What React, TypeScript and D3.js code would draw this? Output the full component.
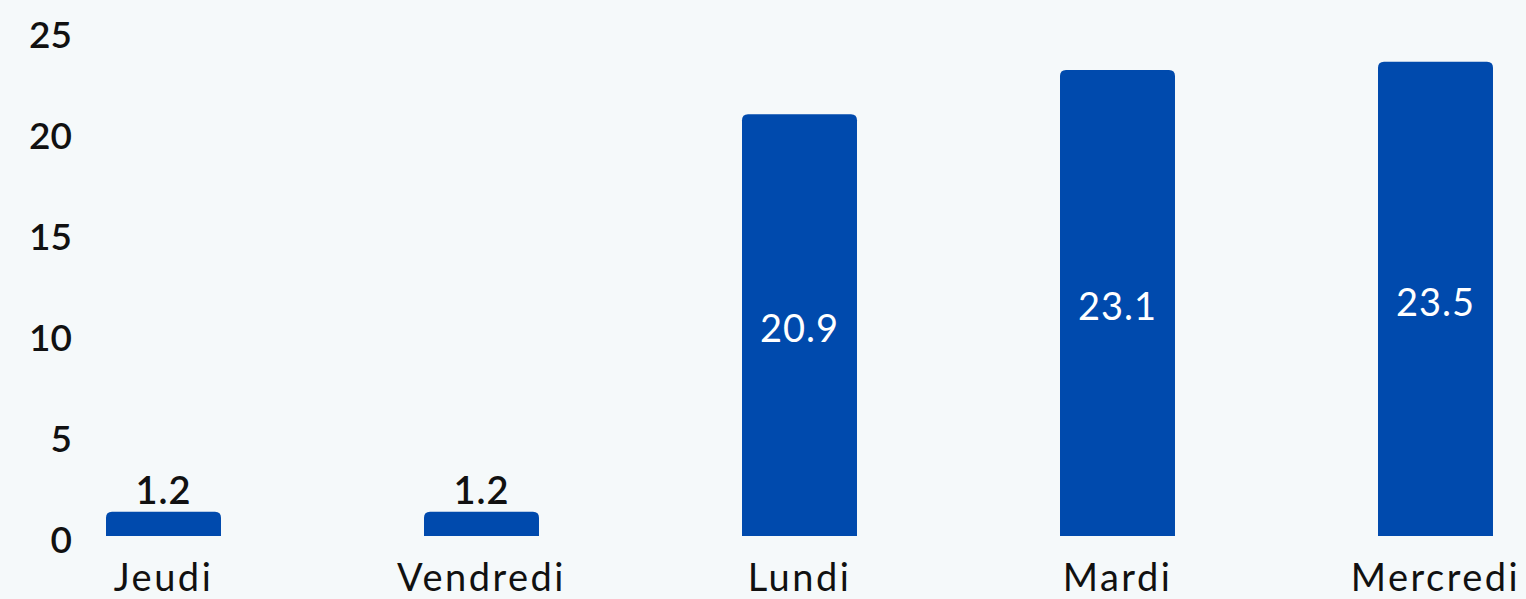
import React from "react";
import * as d3 from "d3";

const categories = ["Jeudi", "Vendredi", "Lundi", "Mardi", "Mercredi"];
const values = [1.2, 1.2, 20.9, 23.1, 23.5];
const yTicks = [0, 5, 10, 15, 20, 25];

const W = 1526;
const H = 599;
const FONT = "Lato, 'Open Sans', sans-serif";

export default function App() {
  const x = d3
    .scaleBand<string>()
    .domain(categories)
    .range([4.5, 1594.5])
    .paddingInner(0.6384)
    .paddingOuter(0.3192);
  const y = d3.scaleLinear().domain([0, 25]).range([536, 31.6]);
  const bw = x.bandwidth();
  const r = 6;

  const barPath = (c: string, v: number) => {
    const x0 = x(c)!;
    const x1 = x0 + bw;
    const yt = y(v);
    const yb = y(0);
    const rr = Math.min(r, yb - yt);
    const p = d3.path();
    p.moveTo(x0, yb);
    p.lineTo(x0, yt + rr);
    p.quadraticCurveTo(x0, yt, x0 + rr, yt);
    p.lineTo(x1 - rr, yt);
    p.quadraticCurveTo(x1, yt, x1, yt + rr);
    p.lineTo(x1, yb);
    p.closePath();
    return p.toString();
  };

  return (
    <svg
      width={W}
      height={H}
      style={{ position: "absolute", left: 0, top: 0, background: "#f5f9fa" }}
    >
      <rect x={0} y={0} width={W} height={H} fill="#f5f9fa" />
      {yTicks.map((t) => (
        <text
          key={t}
          x={72}
          y={y(t) + 2}
          textAnchor="end"
          dominantBaseline="central"
          fontFamily={FONT}
          fontSize={37}
          fontWeight={600}
          fill="#111"
        >
          {t}
        </text>
      ))}
      {categories.map((c, i) => {
        const v = values[i];
        const cx = x(c)! + bw / 2;
        const big = y(0) - y(v) > 60;
        return (
          <g key={c}>
            <path d={barPath(c, v)} fill="#004aad" />
            <text
              x={cx}
              y={big ? (y(v) + y(0)) / 2 + 2 : y(v) - 23}
              textAnchor="middle"
              dominantBaseline="central"
              fontFamily={FONT}
              fontSize={38}
              fontWeight={big ? 400 : 600}
              letterSpacing={1}
              fill={big ? "#ffffff" : "#111"}
            >
              {v.toFixed(1)}
            </text>
            <text
              x={cx}
              y={576}
              textAnchor="middle"
              dominantBaseline="central"
              fontFamily={FONT}
              fontSize={38}
              letterSpacing={2.5}
              fill="#111"
            >
              {c}
            </text>
          </g>
        );
      })}
    </svg>
  );
}
